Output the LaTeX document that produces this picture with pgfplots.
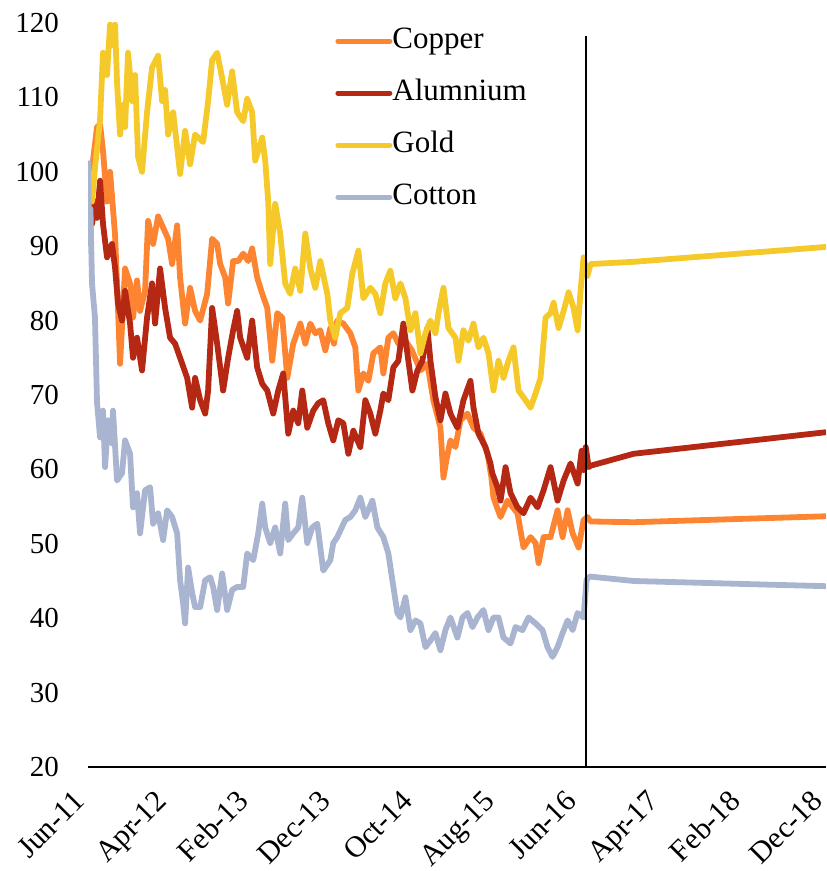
\documentclass[border=0pt]{standalone}
\usepackage{fontspec}
\setmainfont{Liberation Serif}
\usepackage{pgfplots}
\pgfplotsset{compat=1.18}
\definecolor{copper}{RGB}{253,133,50}
\definecolor{alum}{RGB}{180,40,20}
\definecolor{gold}{RGB}{245,201,42}
\definecolor{cotton}{RGB}{168,180,208}
\begin{document}
\begin{tikzpicture}
\useasboundingbox (-44pt,-52pt) rectangle (369pt,383.5pt);
\begin{axis}[
  scale only axis, width=369pt, height=372pt,
  xmin=0, xmax=90, ymin=20, ymax=120,
  axis x line*=bottom, axis y line*=left,
  x axis line style={-, line width=0.9pt, black},
  y axis line style={draw=none},
  major tick length=0pt,
  xtick={0,10,...,90},
  xticklabels={Jun-11,Apr-12,Feb-13,Dec-13,Oct-14,Aug-15,Jun-16,Apr-17,Feb-18,Dec-18},
  xticklabel style={xshift=-0.5pt, yshift=-17.5pt, rotate=45, anchor=base east, font=\fontsize{15}{17}\selectfont, inner sep=0.5pt},
  ytick={20,30,...,120},
  yticklabel style={font=\fontsize{14.5}{16}\selectfont, xshift=-11pt},
  /pgf/number format/assume math mode=true,
  legend cell align=left,
  legend style={at={(0.3347,0.995)}, anchor=north west, draw=none, fill=none, inner sep=0pt,
    row sep=12pt, column sep=0pt,
    nodes={inner sep=0pt, text height=10.5pt, text depth=3.5pt, font=\fontsize{15.5}{17}\selectfont}},
  legend image code/.code={\draw[#1, line width=2.5pt, line cap=round] (0pt,0pt) -- (26pt,0pt);},
  every axis plot/.append style={line width=2.9pt, line join=round, no markers},
]
\addplot[copper] coordinates {
(0,100) (0.61,101.5) (1.10,106) (1.47,106.4) (1.83,102.8) (2.32,96) (2.69,100) (3.05,95) (3.3,91.5) (3.54,85) (3.7,80.4) (3.91,74.2)
(4.52,87) (5.13,85) (5.49,80.4) (5.98,85.4) (6.35,81.3) (6.96,84) (7.33,93.4) (7.94,90.3) (8.55,94) (9.16,92.5) (9.77,91)
(10.26,87.6) (10.87,92.8) (11.23,85.8) (11.84,79.6) (12.45,84.4) (13.06,81.3) (13.68,80) (14.53,83.6) (15.14,91) (15.75,90.3)
(16.12,87.6) (16.73,85.8) (17.09,82.3) (17.70,88) (18.32,88) (18.93,89) (19.54,88) (20.02,89.7) (20.63,85.8) (21.25,83.6)
(21.86,81.7) (22.47,74.6) (23.08,81) (23.69,80.4) (24.30,72.3) (25.03,76.9) (25.89,79.6) (26.50,76.9) (27.11,79.6) (27.72,78.3)
(28.33,78.7) (28.94,76) (29.55,79) (30.0,76.9) (30.40,80) (31.14,79.6) (31.99,78.3) (32.60,76.4) (32.97,70.6) (33.58,72.9)
(34.19,71.9) (34.80,75.6) (35.65,76.4) (36.02,72.9) (36.63,77.7) (37.24,78.3) (37.85,76.9) (38.71,77.3) (39.5,76) (40.54,73.3)
(41.39,74.2) (42.12,69.3) (42.98,65.6) (43.35,58.9) (43.7,61.2) (44.20,63.9) (44.81,63) (45.42,66.6) (46.28,67.5) (47.01,65.6)
(47.86,64.8) (48.72,62.1) (49.2,58.9) (49.45,56.2) (50.31,53.6) (51.16,55.8) (52.38,54.1) (53.11,49.5) (53.97,50.9) (54.58,50.1)
(54.95,47.4) (55.56,50.9) (56.41,50.9) (57.26,54.5) (57.88,50.9) (58.49,54.5) (59.10,51.4) (59.83,49.5) (60.44,53.2)
(60.9,53.6) (61.3,53.0) (66.54,52.9) (90,53.7)
};
\addlegendentry{Copper}
\addplot[alum] coordinates {
(0,99) (0.5,93) (0.85,96) (1.1,93.8) (1.47,98.8) (1.83,93) (2.32,88.5) (2.93,90.3) (3.30,87.1) (3.66,82.3) (4.15,80) (4.52,84)
(5.13,79.6) (5.49,75) (5.98,77.7) (6.59,73.3) (7.20,80.4) (7.81,85) (8.18,79.6) (8.79,87) (9.40,81.7) (10.01,77.7) (10.62,76.9)
(11.23,75) (12.09,72.3) (12.70,68.3) (13.06,72.3) (13.68,69.3) (14.29,67.5) (14.65,70.6) (15.14,81.7) (15.75,76.9) (16.48,70.6)
(17.09,75) (17.70,78.7) (18.19,81.3) (18.56,77.7) (19.41,75) (20.02,80) (20.63,73.7) (21.25,71.5) (21.86,70.6) (22.59,67.5)
(23.20,70.6) (23.81,72.9) (24.42,64.8) (25.03,67.9) (25.64,66.2) (26.13,70.6) (26.74,65.6) (27.47,67.9) (28.08,68.9) (28.69,69.3)
(29.30,66.2) (29.91,63.9) (30.53,66.6) (31.14,66.2) (31.75,62.1) (32.36,65.2) (33.21,63) (33.82,69.3) (34.43,67.5) (35.04,64.8)
(35.65,67.9) (36.02,70.2) (36.63,69.3) (37.24,73.7) (37.85,74.6) (38.46,79.6) (39.07,74.6) (39.56,70.6) (40.17,73.3) (40.78,74.6)
(41.39,79) (41.76,74.6) (42.37,69.7) (42.98,66.6) (43.59,70.2) (44.20,67.5) (45.05,65.6) (45.79,69.3) (46.64,71.9) (47.01,68.3)
(47.62,64.8) (48.47,63) (49.08,60.8) (49.3,59.5) (49.94,57.6) (50.31,55.8) (50.92,60.3) (51.53,56.8) (52.38,54.9) (53.11,54.1)
(53.97,56.2) (54.82,54.9) (55.56,57.2) (56.41,60.3) (57.26,55.8) (58.00,58.5) (58.85,60.8) (59.71,58.1) (60.2,62.5) (60.44,59.9)
(60.7,63) (61.05,60.3) (61.3,60.5) (66.54,62.1) (90,65.0)
};
\addlegendentry{Alumnium}
\addplot[gold] coordinates {
(0,100.5) (0.49,96) (0.85,100.5) (1.47,107) (1.83,116) (2.32,113) (2.69,119.8) (3.05,117) (3.30,119.8) (3.54,112) (3.91,105)
(4.27,109) (4.52,106) (4.88,116) (5.13,113) (5.37,109.5) (5.74,113) (6.11,102) (6.59,100) (7.20,108) (7.81,114) (8.55,115.6)
(9.04,109.5) (9.40,111) (9.77,105) (10.38,108) (10.8,104) (11.23,99.7) (11.84,105.5) (12.45,101) (13.06,105) (14.04,104)
(14.65,109.5) (15.14,115) (15.75,116) (16.36,112.6) (16.97,109) (17.58,113.5) (18.19,108) (18.93,106.8) (19.41,109.8) (20.02,108)
(20.39,101.5) (21.25,104.6) (21.61,101.5) (21.98,96) (22.22,87.6) (22.83,95.7) (23.44,91.7) (24.05,85) (24.66,83.6) (25.27,87)
(25.89,84) (26.50,91.7) (27.11,87) (27.72,84.4) (28.33,88) (29.18,83.6) (29.55,80) (30.16,77.7) (30.77,81) (31.62,81.7)
(32.23,86.3) (32.97,89.4) (33.58,83) (34.43,84.4) (35.04,83.6) (35.65,81) (36.26,85) (36.87,86.7) (37.48,83) (38.10,85)
(38.71,83) (39.32,78.7) (39.93,81) (40.54,75.6) (41.15,78.3) (41.76,80) (42.37,78.3) (42.74,81) (43.35,84.4) (43.96,79)
(44.81,77.7) (45.18,74.6) (45.79,78.7) (46.40,77.3) (47.01,79.6) (47.62,76.4) (48.23,77.7) (48.84,75.6) (49.45,70.6) (50.06,74.6)
(50.67,72.3) (51.28,74.6) (51.89,76.4) (52.50,70.6) (53.36,69.3) (53.97,68.3) (54.58,70.2) (55.19,72.3) (55.80,80.4) (56.41,81)
(56.78,82.4) (57.39,79) (58.00,81.3) (58.61,83.8) (59.22,81.7) (59.71,78.7) (60.07,84) (60.44,88.5)
(60.9,86) (61.3,87.6) (66.54,87.9) (90,89.9)
};
\addlegendentry{Gold}
\addplot[cotton] coordinates {
(0,101.5) (0.15,90.3) (0.3,95) (0.49,85) (0.85,80.4) (1.1,69) (1.47,64.3) (1.83,67.9) (2.08,60.3) (2.44,66.6) (2.93,63.5)
(3.05,67.9) (3.54,58.5) (4.15,59.5) (4.52,63.9) (5.13,62.1) (5.49,54.9) (5.98,56.8) (6.35,51.4) (6.96,57.2) (7.57,57.6)
(7.94,52.7) (8.55,54.1) (9.16,50.5) (9.65,54.5) (10.26,53.6) (10.87,51.4) (11.23,45.1) (11.60,42) (11.84,39.3) (12.21,46.8)
(12.70,43.4) (13.06,41.5) (13.68,41.5) (14.29,45.1) (14.90,45.5) (15.26,44.2) (15.75,41.1) (16.36,46) (16.97,41.1) (17.58,43.8)
(18.19,44.2) (18.93,44.2) (19.41,48.7) (20.15,47.8) (20.76,51.4) (21.25,55.4) (21.61,52.2) (22.22,50.1) (22.83,52.2) (23.44,48.7)
(24.05,55.4) (24.42,50.5) (25.03,51.4) (25.64,52.2) (26.13,56.2) (26.74,50.1) (27.35,52.2) (27.96,52.7) (28.69,46.4) (29.55,47.8)
(29.91,50.1) (30.40,50.9) (31.38,53.2) (31.99,53.6) (32.60,54.5) (33.21,56.2) (33.82,53.6) (34.68,55.8) (35.29,52.2) (36.02,50.9)
(36.63,48.7) (37.12,45.1) (37.73,40.7) (38.10,40.1) (38.71,42.8) (39.32,38.4) (39.93,39.7) (40.54,39.3) (41.15,36.1) (41.76,37)
(42.37,38) (42.98,35.7) (43.59,38.4) (44.20,40.1) (45.05,37.4) (45.67,40.1) (46.28,40.7) (46.89,38.8) (47.50,40.1) (48.23,41.1)
(48.84,38.4) (49.45,40.1) (50.06,40.1) (50.67,37.4) (51.53,36.6) (52.14,38.8) (52.99,38.4) (53.72,40.1) (54.58,39.3) (55.43,38.4)
(56.04,36.1) (56.65,34.8) (57.26,36.1) (57.88,38) (58.49,39.7) (59.10,38.4) (59.71,40.7) (60.44,40.1)
(60.8,45.2) (61.2,45.6) (66.54,45.0) (90,44.3)
};
\addlegendentry{Cotton}
\addplot[black, line width=0.9pt, forget plot] coordinates {(60.7,20) (60.7,118.3)};
\end{axis}
\end{tikzpicture}
\end{document}
